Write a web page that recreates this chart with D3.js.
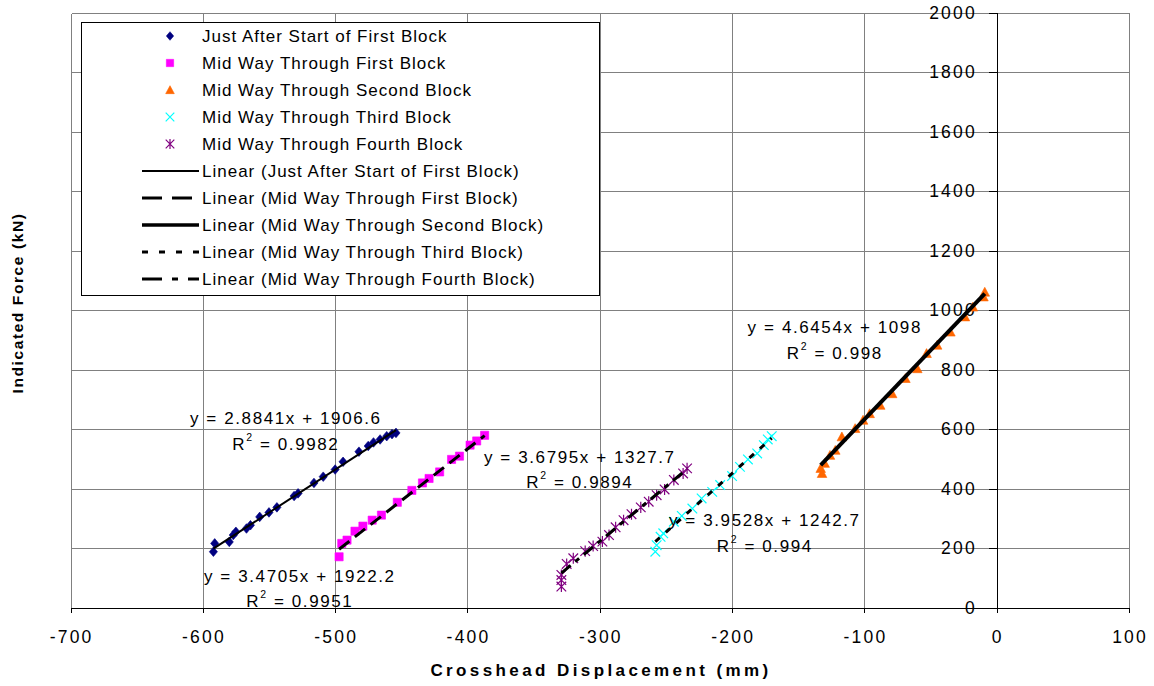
<!DOCTYPE html>
<html>
<head>
<meta charset="utf-8">
<script src="https://cdn.jsdelivr.net/npm/d3@7"></script>
<style>
  html, body { margin: 0; padding: 0; background: #fff; }
  svg { display: block; }
  text { font-family: "Liberation Sans", Arial, sans-serif; fill: #000; }
</style>
</head>
<body>
<svg id="chart" width="1154" height="686"></svg>
<script>
// ---- data ----
const seriesNames = [
  "Just After Start of First Block",
  "Mid Way Through First Block",
  "Mid Way Through Second Block",
  "Mid Way Through Third Block",
  "Mid Way Through Fourth Block"
];

// displacement (mm) / force (kN) readings for each test stage
const startFirstX = [-592, -591, -580, -577, -575, -567, -564, -557, -550, -544, -531, -528, -516, -509, -500, -494, -482, -475, -471, -466, -461, -457, -454];
const startFirstY = [189, 217, 222, 245, 256, 267, 278, 306, 321, 338, 376, 385, 420, 441, 465, 491, 525, 544, 556, 566, 577, 584, 588];

const midFirstX = [-497, -495, -491, -485, -479, -472, -465, -453, -442, -434, -429, -421, -412, -406, -398, -393, -387];
const midFirstY = [172, 217, 228, 258, 275, 295, 312, 355, 395, 420, 435, 457, 499, 510, 547, 561, 580];

const midSecondX = [-132, -133, -130, -126, -122, -117, -107, -101, -96, -88, -79, -69, -60, -53, -45, -35, -24, -18, -10, -9];
const midSecondY = [452, 469, 486, 513, 530, 575, 603, 631, 653, 681, 720, 771, 804, 855, 883, 927, 978, 1011, 1045, 1061];

const midThirdX = [-258, -257, -254, -252, -244, -238, -230, -223, -215, -209, -200, -194, -188, -181, -176, -173, -170];
const midThirdY = [189, 211, 239, 251, 290, 309, 334, 368, 390, 413, 443, 474, 499, 519, 547, 566, 577];

const midFourthX = [-329, -329, -329, -325, -320, -311, -305, -298, -293, -288, -282, -276, -269, -263, -257, -251, -244, -237, -234];
const midFourthY = [72, 94, 111, 148, 167, 191, 208, 223, 245, 271, 295, 315, 338, 357, 379, 398, 430, 452, 469];

// linear trend fits (slope, intercept, R^2)
const trendSlopes = [2.8841, 3.4705, 4.6454, 3.9528, 3.6795];
const trendIntercepts = [1906.6, 1922.2, 1098, 1242.7, 1327.7];
const trendR2 = ["0.9982", "0.9951", "0.998", "0.994", "0.9894"];

const xTicks = [-700, -600, -500, -400, -300, -200, -100, 0, 100];
const yTicks = [0, 200, 400, 600, 800, 1000, 1200, 1400, 1600, 1800, 2000];

const xTitle = "Crosshead Displacement (mm)";
const yTitle = "Indicated Force (kN)";

// ---- layout & styles ----
const seriesX = [startFirstX, midFirstX, midSecondX, midThirdX, midFourthX];
const seriesY = [startFirstY, midFirstY, midSecondY, midThirdY, midFourthY];
const colors = ["#000080", "#ff00ff", "#ff6600", "#00ffff", "#800080"];
const markerKinds = ["diamond", "square", "triangle", "cross", "star"];
const trendWidths = [2, 3, 4, 3, 3];
const trendDash = [null, "13,7", null, "6,8", "12,6,5,6"];
const legendDash = [null, "20,10", null, "6,11", "20,10,6,10"];
// equation label anchors: [centre x, baseline y of first line, baseline y of R^2 line]
const eqPos = [[285, 424, 450], [299, 582, 607], [834, 333, 359], [764, 526, 552], [579, 463, 488]];

const svg = d3.select("#chart");
const x = d3.scaleLinear().domain([-700, 100]).range([70.5, 1129]);
const y = d3.scaleLinear().domain([0, 2000]).range([608, 12.5]);
const px = v => Math.round(x(v)) + 0.5;
const py = v => Math.round(y(v)) + 0.5;

// gridlines
const grid = svg.append("g").attr("shape-rendering", "crispEdges");
grid.selectAll("line.v").data(xTicks).join("line")
  .attr("x1", d => px(d)).attr("x2", d => px(d))
  .attr("y1", py(0)).attr("y2", py(2000))
  .attr("stroke", "#808080").attr("stroke-width", 1);
grid.selectAll("line.h").data(yTicks).join("line")
  .attr("y1", d => py(d)).attr("y2", d => py(d))
  .attr("x1", px(-700)).attr("x2", px(100))
  .attr("stroke", "#808080").attr("stroke-width", 1);

// axes crossing at the origin
const xAxis = d3.axisBottom(x).tickValues(xTicks).tickSize(5).tickFormat("");
const yAxis = d3.axisLeft(y).tickValues(yTicks).tickSize(8).tickFormat("");
const gx = svg.append("g").attr("transform", `translate(0,${Math.round(y(0))})`).call(xAxis);
const gy = svg.append("g").attr("transform", `translate(${Math.round(x(0))},0)`).call(yAxis);
[gx, gy].forEach(g => {
  g.attr("shape-rendering", "crispEdges");
  g.select(".domain").attr("stroke", "#000");
  g.selectAll(".tick line").attr("stroke", "#000");
});

// tick labels
const tickFont = 17.5, tickSpace = 2.2;
svg.append("g").selectAll("text").data(xTicks).join("text")
  .attr("x", d => x(d) + tickSpace / 2).attr("y", 643)
  .attr("text-anchor", "middle").attr("font-size", tickFont)
  .attr("letter-spacing", tickSpace).text(d => d);
svg.append("g").selectAll("text").data(yTicks).join("text")
  .attr("x", x(0) - 22 + tickSpace).attr("y", d => y(d) + 6)
  .attr("text-anchor", "end").attr("font-size", tickFont)
  .attr("letter-spacing", tickSpace).text(d => d);

// axis titles
svg.append("text").attr("x", 601).attr("y", 676).attr("text-anchor", "middle")
  .attr("font-size", 17).attr("font-weight", "bold").attr("letter-spacing", 3.4)
  .text(xTitle);
svg.append("text").attr("transform", "translate(23,303) rotate(-90)")
  .attr("text-anchor", "middle").attr("font-size", 15.5).attr("font-weight", "bold")
  .attr("letter-spacing", 1.6).text(yTitle);

// marker shapes
function markerPath(kind, s) {
  switch (kind) {
    case "diamond": return `M0,${-s}L${s * 0.85},0L0,${s}L${-s * 0.85},0Z`;
    case "square": return `M${-s * 0.85},${-s * 0.85}H${s * 0.85}V${s * 0.85}H${-s * 0.85}Z`;
    case "triangle": return `M0,${-s}L${s},${s * 0.85}L${-s},${s * 0.85}Z`;
    case "cross": return `M${-s},${-s}L${s},${s}M${-s},${s}L${s},${-s}`;
    case "star": return `M${-s},${-s}L${s},${s}M${-s},${s}L${s},${-s}M0,${-s * 1.15}V${s * 1.15}`;
  }
}
function drawMarker(g, kind, color, cx, cy, s) {
  const filled = kind === "diamond" || kind === "square" || kind === "triangle";
  g.append("path").attr("d", markerPath(kind, s))
    .attr("transform", `translate(${cx},${cy})`)
    .attr("fill", filled ? color : "none")
    .attr("stroke", color).attr("stroke-width", filled ? 0.6 : 1.2);
}

// data points
const pts = svg.append("g");
seriesX.forEach((xs, i) => {
  xs.forEach((xv, j) => drawMarker(pts, markerKinds[i], colors[i], x(xv), y(seriesY[i][j]), 4.8));
});

// trend lines over each series' range
const trends = svg.append("g");
seriesX.forEach((xs, i) => {
  const [x0, x1] = d3.extent(xs);
  const f = v => trendSlopes[i] * v + trendIntercepts[i];
  const line = trends.append("line")
    .attr("x1", x(x0)).attr("y1", y(f(x0)))
    .attr("x2", x(x1)).attr("y2", y(f(x1)))
    .attr("stroke", "#000").attr("stroke-width", trendWidths[i]);
  if (trendDash[i]) line.attr("stroke-dasharray", trendDash[i]);
});

// equation labels
const eqFont = 17, eqSpace = 1.6;
seriesX.forEach((xs, i) => {
  const [cx, by1, by2] = eqPos[i];
  svg.append("text").attr("x", cx + eqSpace / 2).attr("y", by1)
    .attr("text-anchor", "middle").attr("font-size", eqFont).attr("letter-spacing", eqSpace)
    .text(`y = ${trendSlopes[i]}x + ${trendIntercepts[i]}`);
  const t = svg.append("text").attr("x", cx + eqSpace / 2).attr("y", by2)
    .attr("text-anchor", "middle").attr("font-size", eqFont).attr("letter-spacing", eqSpace);
  t.append("tspan").text("R");
  t.append("tspan").attr("font-size", 10.5).attr("dy", -9).text("2");
  t.append("tspan").attr("dy", 9).text(` = ${trendR2[i]}`);
});

// legend
const lg = svg.append("g");
lg.append("rect").attr("x", 81.5).attr("y", 22.5).attr("width", 518).attr("height", 273)
  .attr("fill", "#fff").attr("stroke", "#000").attr("stroke-width", 1)
  .attr("shape-rendering", "crispEdges");
const rowY = i => 36 + i * 27.0;
const legendFont = 17, legendSpace = 1.0;
seriesNames.forEach((name, i) => {
  drawMarker(lg, markerKinds[i], colors[i], 170, rowY(i), 4.3);
  lg.append("text").attr("x", 202).attr("y", rowY(i) + 6)
    .attr("font-size", legendFont).attr("letter-spacing", legendSpace).text(name);
});
seriesNames.forEach((name, i) => {
  const r = rowY(i + 5);
  const l = lg.append("line").attr("x1", 142).attr("x2", 199).attr("y1", r).attr("y2", r)
    .attr("stroke", "#000").attr("stroke-width", trendWidths[i] === 4 ? 3.5 : (i === 0 ? 2 : 3));
  if (legendDash[i]) l.attr("stroke-dasharray", legendDash[i]);
  lg.append("text").attr("x", 202).attr("y", r + 6)
    .attr("font-size", legendFont).attr("letter-spacing", legendSpace).text(`Linear (${name})`);
});
</script>
</body>
</html>
